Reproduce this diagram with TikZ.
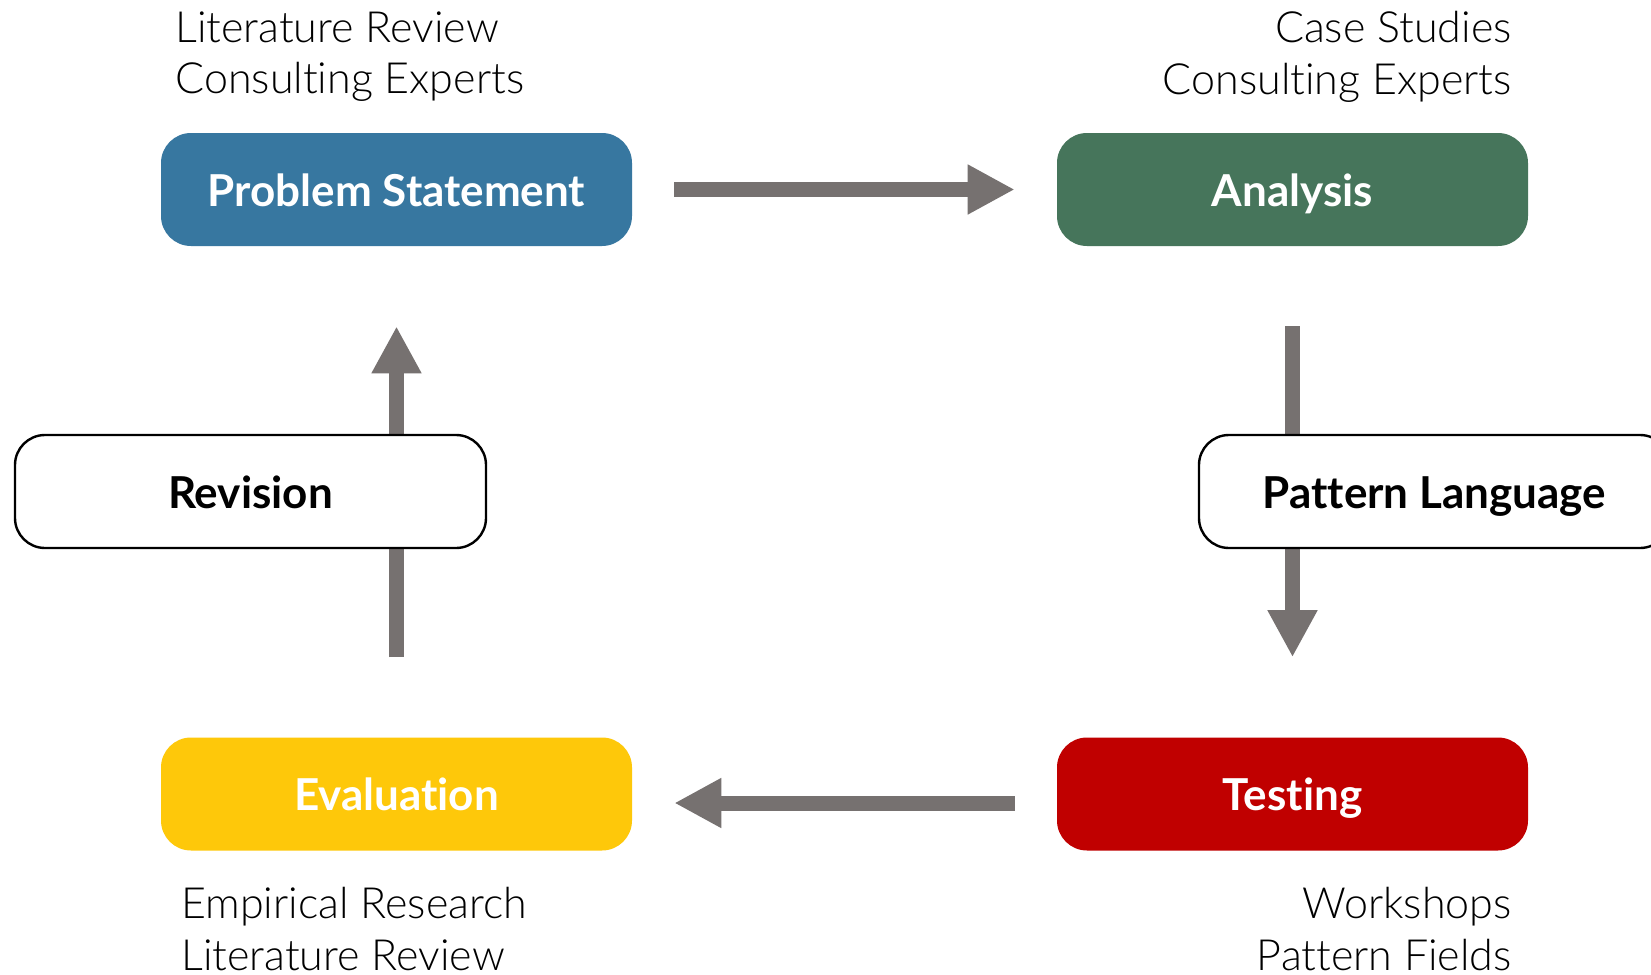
\documentclass[tikz,border=0pt]{standalone}
\usepackage{fontspec}
\setmainfont{Lato}[Ligatures={NoCommon}]
\newfontfamily\notefont{Lato Light}[Ligatures={NoCommon}]
\usepackage{xcolor}
\usetikzlibrary{arrows.meta}
\definecolor{psblue}{RGB}{55,119,160}
\definecolor{angreen}{RGB}{70,117,91}
\definecolor{tered}{RGB}{192,0,0}
\definecolor{evyellow}{RGB}{254,200,10}
\definecolor{arrowgray}{RGB}{118,113,112}
\tikzset{
    phase/.style={
        rounded corners=15pt, minimum width=235.5pt, minimum height=56.5pt,
        inner sep=0pt, text height=18.5pt, text depth=2pt,
        text=white, font=\fontsize{22}{26}\selectfont\bfseries
    },
    loopbox/.style={phase, draw=black, line width=1.2pt, fill=white, text=black},
    note/.style={font=\notefont\fontsize{21.5}{25.8}\selectfont, inner sep=0pt},
    bigarrow/.style={
        draw=arrowgray, line width=7.5pt,
        -{Triangle[length=23.5pt,width=23.5pt]},
        shorten <=21pt, shorten >=21pt
    }
}

\begin{document}
\begin{tikzpicture}[x=0.5pt, y=-0.5pt]

% Cornice
\path[use as bounding box, fill=white] (0,0) rectangle (1651,975);

% Fasi
\node[phase, fill=psblue] (ps) at (396.5,189.5) {Problem Statement};
\node[phase, fill=angreen] (an) at (1292.5,189.5) {Analysis};
\node[phase, fill=tered] (te) at (1292.5,794) {Testing};
\node[phase, fill=evyellow] (ev) at (396.5,794) {Evaluation};

% Note
\node[note, align=left, anchor=north west] (psnote) at (175,11)
    {Literature Review\\Consulting Experts};
\node[note, align=right, anchor=north east] (annote) at (1512,11)
    {Case Studies\\Consulting Experts};
\node[note, align=left, anchor=north west] (evnote) at (181,887)
    {Empirical Research\\Literature Review};
\node[note, align=right, anchor=north east] (tenote) at (1512,887)
    {Workshops\\Pattern Fields};

% Frecce
\draw[bigarrow] (ps.east) -- (an.west);
\draw[bigarrow, shorten <=40pt, shorten >=40pt] (an.south) -- (te.north);
\draw[bigarrow] ([yshift=-4.5pt]te.west) -- ([yshift=-4.5pt]ev.east);
\draw[bigarrow, shorten <=40pt, shorten >=40pt] (ev.north) -- (ps.south);

% Riquadri sopra le frecce
\node[loopbox] (rev) at (250.5,491.5) {Revision};
\node[loopbox] (pl) at (1434.5,491.5) {Pattern Language};

\end{tikzpicture}
\end{document}
